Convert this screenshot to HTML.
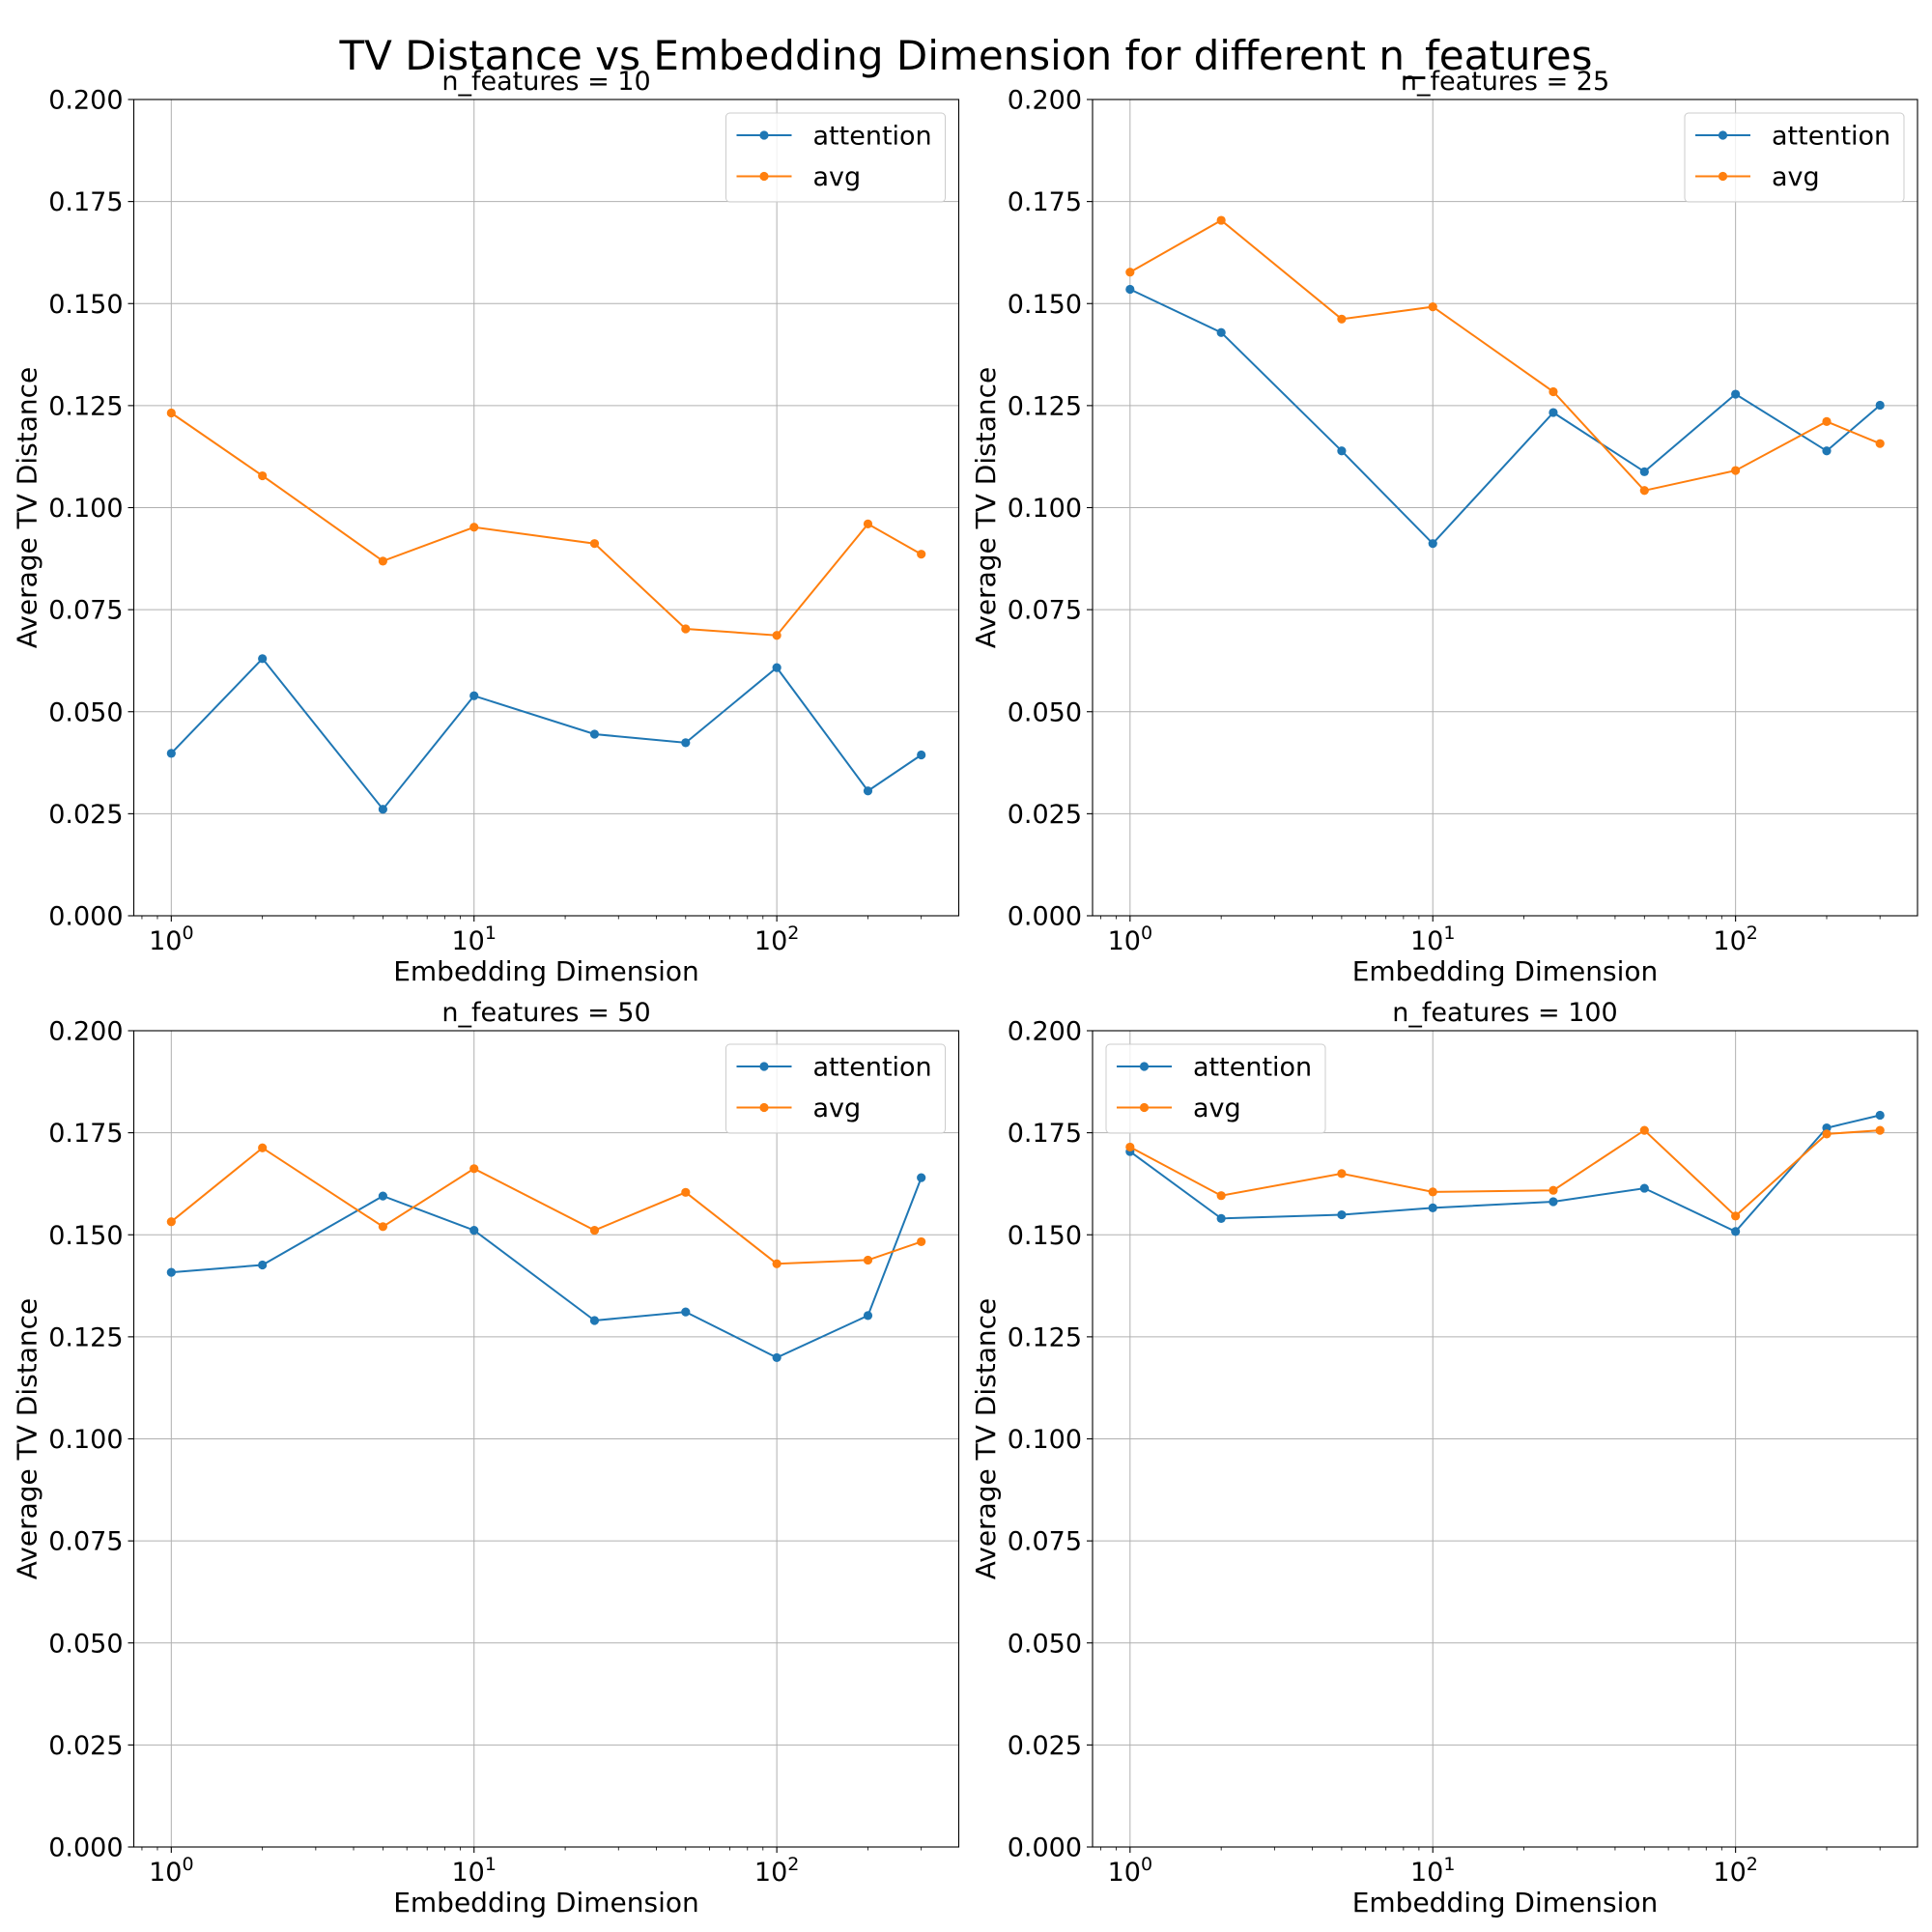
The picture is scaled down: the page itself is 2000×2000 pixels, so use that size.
<!DOCTYPE html>
<html><head><meta charset="utf-8">
<style>
html,body{margin:0;padding:0;background:#fff;}
svg{display:block;font-family:"DejaVu Sans","Liberation Sans",sans-serif;}
</style></head>
<body>
<svg id="fig" width="2000" height="2000" viewBox="0 0 2000 2000" xmlns="http://www.w3.org/2000/svg">
<rect width="2000" height="2000" fill="#fff"/>
<text x="1000" y="72" font-size="42" text-anchor="middle" fill="#000">TV Distance vs Embedding Dimension for different n_features</text>
</svg>
<script>
const xCategories = [1, 2, 5, 10, 25, 50, 100, 200, 300];
const yTicks = [0, 0.025, 0.05, 0.075, 0.1, 0.125, 0.15, 0.175, 0.2];
const yTickLabels = ["0.000","0.025","0.050","0.075","0.100","0.125","0.150","0.175","0.200"];
const xTickExps = [0, 1, 2];
const panelTitles = ["n_features = 10", "n_features = 25", "n_features = 50", "n_features = 100"];
const attention10 = [0.0398, 0.0630, 0.0261, 0.0539, 0.0445, 0.0424, 0.0608, 0.0306, 0.0394];
const avg10 = [0.1232, 0.1078, 0.0869, 0.0952, 0.0912, 0.0703, 0.0687, 0.0960, 0.0886];
const attention25 = [0.1535, 0.1429, 0.1139, 0.0912, 0.1233, 0.1088, 0.1278, 0.1139, 0.1251];
const avg25 = [0.1577, 0.1704, 0.1462, 0.1492, 0.1284, 0.1042, 0.1091, 0.1211, 0.1157];
const attention50 = [0.1408, 0.1426, 0.1595, 0.1511, 0.1290, 0.1311, 0.1199, 0.1302, 0.1640];
const avg50 = [0.1532, 0.1713, 0.1520, 0.1662, 0.1511, 0.1604, 0.1429, 0.1438, 0.1483];
const attention100 = [0.1704, 0.1540, 0.1549, 0.1566, 0.1581, 0.1614, 0.1508, 0.1762, 0.1793];
const avg100 = [0.1715, 0.1596, 0.1650, 0.1605, 0.1609, 0.1756, 0.1546, 0.1747, 0.1756];

const NS = "http://www.w3.org/2000/svg";
const svg = document.getElementById('fig');
function mk(tag, attrs, parent){
  const e = document.createElementNS(NS, tag);
  for (const k in attrs) e.setAttribute(k, attrs[k]);
  (parent||svg).appendChild(e);
  return e;
}
const BLUE = "#1f77b4", ORANGE = "#ff7f0e";
const panels = [
  {x:138.5, y:103, att:attention10, avg:avg10, legendLeft:false},
  {x:1131, y:103, att:attention25, avg:avg25, legendLeft:false},
  {x:138.5, y:1067, att:attention50, avg:avg50, legendLeft:false},
  {x:1131, y:1067, att:attention100, avg:avg100, legendLeft:true}
];
const W = 854, H = 845;
const lmin = Math.log10(xCategories[0]), lmax = Math.log10(xCategories[xCategories.length-1]);
const pad = (lmax - lmin) * 0.05;

panels.forEach((p, i) => {
  const g = mk('g', {});
  
  
  const xs = v => p.x + (Math.log10(v) - (lmin - pad)) / ((lmax + pad) - (lmin - pad)) * W;
  const ys = v => p.y + H - (v - 0) / (0.2 - 0) * H;
  yTicks.forEach((t, k) => {
    const l = mk('line', {x1:p.x, x2:p.x+W, y1:ys(t), y2:ys(t), stroke:'#b0b0b0', 'stroke-width':1}, g);
    
    
    mk('line', {x1:p.x-6, x2:p.x, y1:ys(t), y2:ys(t), stroke:'#000', 'stroke-width':1.1}, g);
    const tx = mk('text', {x:p.x-11, y:ys(t)+9.5, 'font-size':27, 'text-anchor':'end'}, g);
    tx.textContent = yTickLabels[k];
    
    
  });
  xTickExps.forEach(e => {
    const xv = xs(Math.pow(10, e));
    const l = mk('line', {x1:xv, x2:xv, y1:p.y, y2:p.y+H, stroke:'#b0b0b0', 'stroke-width':1}, g);
    
    
    mk('line', {x1:xv, x2:xv, y1:p.y+H, y2:p.y+H+6, stroke:'#000', 'stroke-width':1.1}, g);
    const tx = mk('text', {x:xv, y:p.y+H+35, 'font-size':27, 'text-anchor':'middle'}, g);
    
    
    const b = document.createElementNS(NS, 'tspan'); b.textContent = '10'; tx.appendChild(b);
    const s = document.createElementNS(NS, 'tspan'); s.setAttribute('font-size', '19'); s.setAttribute('dy', '-11'); s.textContent = String(e); tx.appendChild(s);
  });
  for (let e = -1; e <= 3; e++) for (let m = 2; m <= 9; m++) {
    const v = m * Math.pow(10, e), xv = xs(v);
    if (xv < p.x || xv > p.x + W) continue;
    mk('line', {x1:xv, x2:xv, y1:p.y+H, y2:p.y+H+3.5, stroke:'#000', 'stroke-width':0.8}, g);
  }
  [[p.att, BLUE, 'attention'], [p.avg, ORANGE, 'avg']].forEach(([arr, col, nm]) => {
    const pts = arr.map((v, k) => xs(xCategories[k]).toFixed(1) + ',' + ys(v).toFixed(1)).join(' ');
    const pl = mk('polyline', {points:pts, fill:'none', stroke:col, 'stroke-width':2}, g);
    
    
    arr.forEach((v, k) => {
      const c = mk('circle', {cx:xs(xCategories[k]), cy:ys(v), r:4.6, fill:col}, g);
      
      
    });
  });
  const fr = mk('rect', {x:p.x, y:p.y, width:W, height:H, fill:'none', stroke:'#000', 'stroke-width':1.1}, g);
  
  
  const t = mk('text', {x:p.x+W/2, y:p.y-10, 'font-size':27, 'text-anchor':'middle'}, g);
  t.textContent = panelTitles[i];
  
  
  const xl = mk('text', {x:p.x+W/2, y:p.y+H+67, 'font-size':28, 'text-anchor':'middle'}, g);
  xl.textContent = 'Embedding Dimension';
  
  
  const yx = p.x - 101, yy = p.y + H/2;
  const yl = mk('text', {x:yx, y:yy, 'font-size':28, 'text-anchor':'middle', transform:'rotate(-90 '+yx+' '+yy+')'}, g);
  yl.textContent = 'Average TV Distance';
  
  
  const lw = 227, lh = 92;
  const lx = p.legendLeft ? p.x + 14 : p.x + W - 14 - lw, ly = p.y + 14;
  const lg = mk('g', {}, g);
  
  
  mk('rect', {x:lx, y:ly, width:lw, height:lh, rx:4, fill:'#fff', 'fill-opacity':0.8, stroke:'#cccccc', 'stroke-width':1}, lg);
  [['attention', BLUE, 23], ['avg', ORANGE, 65.5]].forEach(([nm, col, dy]) => {
    const e = mk('g', {}, lg);
    
    
    mk('line', {x1:lx+11, x2:lx+68, y1:ly+dy, y2:ly+dy, stroke:col, 'stroke-width':2}, e);
    mk('circle', {cx:lx+39.5, cy:ly+dy, r:4.6, fill:col}, e);
    const tx = mk('text', {x:lx+90, y:ly+dy+9.5, 'font-size':27}, e);
    tx.textContent = nm;
  });
});
</script>
</body></html>
